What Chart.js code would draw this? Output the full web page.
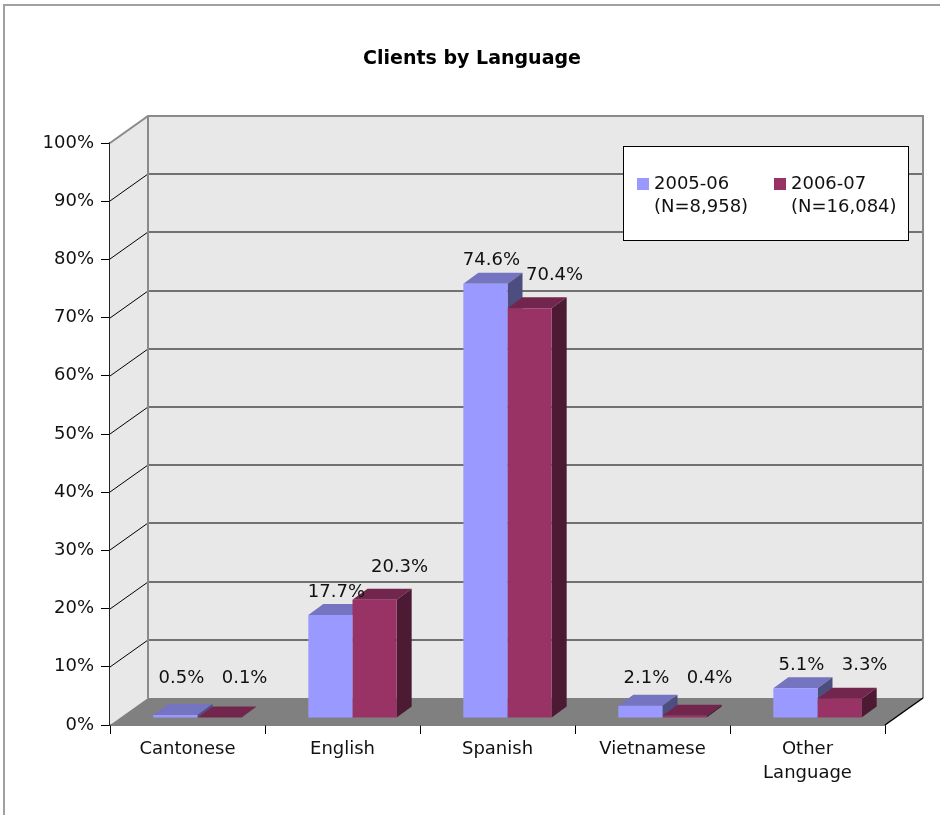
<!DOCTYPE html>
<html>
<head>
<meta charset="utf-8">
<title>Clients by Language</title>
<script src="https://cdn.jsdelivr.net/npm/chart.js@4.4.1/dist/chart.umd.min.js"></script>
<style>
  body { margin: 0; background: #fff; }
  canvas { display: block; }
</style>
</head>
<body>
<canvas id="langChart" width="940" height="815"></canvas>
<script>
// categories and share of clients (%) per year
const languages = ['Cantonese', 'English', 'Spanish', 'Vietnamese', ['Other', 'Language']];
const pct0506 = [0.5, 17.7, 74.6, 2.1, 5.1];
const pct0607 = [0.1, 20.3, 70.4, 0.4, 3.3];
const seriesLabels = [['2005-06', '(N=8,958)'], ['2006-07', '(N=16,084)']];
const chartTitle = 'Clients by Language';
const yMax = 100, yStep = 10;

const FONT = 'DejaVu Sans';
// fake 3d: depth offsets in pixels (right, up)
const WALL = { dx: 38, dy: 27 };
const BAR_FRONT = { dx: 10, dy: 7 };
const BAR_DEPTH = { dx: 15, dy: 11 };

const faces = [
  { front: '#9999ff', top: '#7474c0', side: '#4d4d80' },
  { front: '#993366', top: '#73264d', side: '#4d1a33' }
];

function poly(ctx, pts) {
  ctx.beginPath();
  ctx.moveTo(pts[0][0], pts[0][1]);
  for (let i = 1; i < pts.length; i++) ctx.lineTo(pts[i][0], pts[i][1]);
  ctx.closePath();
}

const box3d = {
  id: 'box3d',
  beforeDraw(chart) {
    const ctx = chart.ctx;
    ctx.save();
    ctx.fillStyle = '#fff';
    ctx.fillRect(0, 0, chart.width, chart.height);
    // outer frame (only top and left edges fall inside the canvas)
    ctx.strokeStyle = '#a0a0a0';
    ctx.lineWidth = 2;
    ctx.strokeRect(4, 5, chart.width + 20, chart.height + 20);
    // title
    ctx.fillStyle = '#000';
    ctx.font = 'bold 19px ' + FONT;
    ctx.textAlign = 'center';
    ctx.textBaseline = 'middle';
    ctx.fillText(chartTitle, 472, 59);
    ctx.restore();
  },
  beforeDatasetsDraw(chart) {
    const { ctx, chartArea: a, scales: { y } } = chart;
    const y0 = y.getPixelForValue(0), yT = y.getPixelForValue(yMax);
    const L = a.left, R = a.right;
    ctx.save();
    // side wall and back wall
    ctx.fillStyle = '#e8e8e8';
    poly(ctx, [[L, yT], [L + WALL.dx, yT - WALL.dy], [L + WALL.dx, y0 - WALL.dy], [L, y0]]);
    ctx.fill();
    ctx.fillRect(L + WALL.dx, yT - WALL.dy, R - L, y0 - yT);
    // floor
    ctx.fillStyle = '#808080';
    poly(ctx, [[L, y0], [R, y0], [R + WALL.dx, y0 - WALL.dy], [L + WALL.dx, y0 - WALL.dy]]);
    ctx.fill();
    // gridlines on the back wall and the side wall
    for (let v = yStep; v < yMax; v += yStep) {
      const py = Math.round(y.getPixelForValue(v));
      ctx.strokeStyle = '#4a4a4a';
      ctx.lineWidth = 1.5;
      ctx.beginPath();
      ctx.moveTo(L + WALL.dx, py - WALL.dy);
      ctx.lineTo(R + WALL.dx, py - WALL.dy);
      ctx.stroke();
      ctx.strokeStyle = '#000';
      ctx.lineWidth = 1;
      ctx.beginPath();
      ctx.moveTo(L, py);
      ctx.lineTo(L + WALL.dx, py - WALL.dy);
      ctx.stroke();
    }
    // wall edges
    ctx.strokeStyle = '#8a8a8a';
    ctx.lineWidth = 2;
    ctx.beginPath();
    ctx.moveTo(L, yT);
    ctx.lineTo(L + WALL.dx, yT - WALL.dy);
    ctx.lineTo(R + WALL.dx, yT - WALL.dy);
    ctx.lineTo(R + WALL.dx, y0 - WALL.dy);
    ctx.moveTo(L + WALL.dx, yT - WALL.dy);
    ctx.lineTo(L + WALL.dx, y0 - WALL.dy);
    ctx.stroke();
    ctx.strokeStyle = '#000';
    ctx.lineWidth = 1.5;
    ctx.beginPath();
    ctx.moveTo(R, y0);
    ctx.lineTo(R + WALL.dx, y0 - WALL.dy);
    ctx.stroke();

    // bar tops and right-hand sides, series by series
    chart.data.datasets.forEach((ds, i) => {
      chart.getDatasetMeta(i).data.forEach(bar => {
        const p = bar.getProps(['x', 'y', 'base', 'width'], true);
        const l = p.x - p.width / 2 + BAR_FRONT.dx, r = p.x + p.width / 2 + BAR_FRONT.dx;
        const t = p.y - BAR_FRONT.dy, b = p.base - BAR_FRONT.dy;
        ctx.fillStyle = faces[i].top;
        poly(ctx, [[l, t], [r, t], [r + BAR_DEPTH.dx, t - BAR_DEPTH.dy], [l + BAR_DEPTH.dx, t - BAR_DEPTH.dy]]);
        ctx.fill();
        ctx.fillStyle = faces[i].side;
        poly(ctx, [[r, t], [r + BAR_DEPTH.dx, t - BAR_DEPTH.dy], [r + BAR_DEPTH.dx, b - BAR_DEPTH.dy], [r, b]]);
        ctx.fill();
      });
    });
    ctx.restore();
    // bar fronts are drawn one step into the floor
    ctx.save();
    ctx.translate(BAR_FRONT.dx, -BAR_FRONT.dy);
  },
  afterDatasetsDraw(chart) {
    const { ctx, scales: { y } } = chart;
    ctx.restore();
    // value labels
    const cap = y.getPixelForValue(0) - 47;
    ctx.save();
    ctx.font = '18px ' + FONT;
    ctx.fillStyle = '#111';
    ctx.textAlign = 'center';
    ctx.textBaseline = 'middle';
    chart.data.datasets.forEach((ds, i) => {
      chart.getDatasetMeta(i).data.forEach((bar, j) => {
        const lx = bar.x + BAR_FRONT.dx + (i === 0 ? 6 : 25);
        const ly = Math.min(bar.y - (i === 0 ? 30 : 40), cap);
        ctx.fillText(ds.data[j].toFixed(1) + '%', lx, ly);
      });
    });
    ctx.restore();
  },
  afterDraw(chart) {
    const ctx = chart.ctx;
    ctx.save();
    // legend box
    ctx.fillStyle = '#fff';
    ctx.fillRect(623, 146, 285, 94);
    ctx.strokeStyle = '#000';
    ctx.lineWidth = 1;
    ctx.strokeRect(623.5, 146.5, 285, 94);
    ctx.font = '18px ' + FONT;
    ctx.textAlign = 'left';
    ctx.textBaseline = 'middle';
    const itemX = [637, 774];
    chart.data.datasets.forEach((ds, i) => {
      ctx.fillStyle = faces[i].front;
      ctx.fillRect(itemX[i], 178, 12, 12);
      ctx.fillStyle = '#111';
      ds.label.forEach((line, k) => ctx.fillText(line, itemX[i] + 17, 184 + k * 23));
    });
    ctx.restore();
  }
};

const ctx = document.getElementById('langChart').getContext('2d');
const langChart = new Chart(ctx, {
  type: 'bar',
  data: {
    labels: languages,
    datasets: [
      { label: seriesLabels[0], data: pct0506, backgroundColor: faces[0].front },
      { label: seriesLabels[1], data: pct0607, backgroundColor: faces[1].front }
    ]
  },
  options: {
    responsive: false,
    animation: false,
    events: [],
    layout: { padding: { top: 143, right: 55, left: 0, bottom: 0 } },
    datasets: {
      bar: { categoryPercentage: 0.57, barPercentage: 1.0, borderWidth: 0, clip: false }
    },
    plugins: {
      legend: { display: false },
      title: { display: false },
      tooltip: { enabled: false }
    },
    scales: {
      x: {
        offset: true,
        grid: { offset: true, drawOnChartArea: false, drawTicks: true, tickLength: 9, color: '#000' },
        border: { color: '#000', width: 1.5 },
        ticks: {
          color: '#111',
          padding: 4,
          maxRotation: 0,
          autoSkip: false,
          font: { family: FONT, size: 18, lineHeight: 1.3 }
        },
        afterFit: s => { s.height = 90; }
      },
      y: {
        min: 0,
        max: yMax,
        grid: { drawOnChartArea: false, drawTicks: true, tickLength: 9, color: '#000' },
        border: { color: '#222', width: 1.5 },
        ticks: {
          stepSize: yStep,
          color: '#111',
          padding: 7,
          font: { family: FONT, size: 18 },
          callback: v => v + '%'
        },
        afterFit: s => { s.width = 110; }
      }
    }
  },
  plugins: [box3d]
});
</script>
</body>
</html>
